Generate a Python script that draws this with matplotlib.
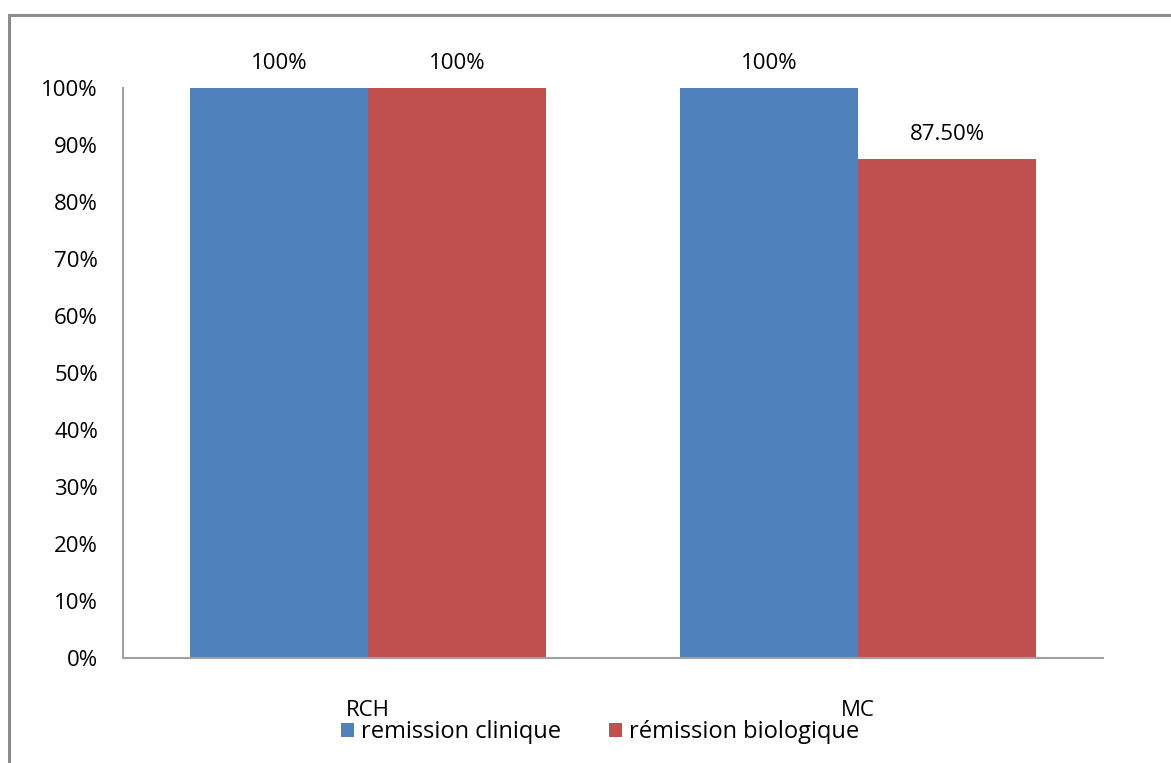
import matplotlib
matplotlib.use("Agg")
import matplotlib.pyplot as plt
from matplotlib.patches import Rectangle
from matplotlib.ticker import FuncFormatter
import numpy as np

categories = ["RCH", "MC"]
series_names = ["remission clinique", "rémission biologique"]
clinique = [100, 100]
biologique = [100, 87.5]
value_labels = [["100%", "100%"], ["100%", "87.50%"]]
yticks = [0, 10, 20, 30, 40, 50, 60, 70, 80, 90, 100]

blue = "#4F81BD"
red = "#C0504D"
axis_gray = "#A0A0A0"
fs = 16

plt.rcParams["font.family"] = ["Open Sans", "DejaVu Sans"]

fig = plt.figure(figsize=(11.71, 7.63), dpi=100)
W, H = 1171, 763

# outer chart frame
fig.add_artist(Rectangle((9 / W, -0.05), 1.2, 1 - 15 / H + 0.05, transform=fig.transFigure,
                         fill=False, edgecolor="#8C8C8C", linewidth=2.2))

ax = fig.add_axes([123 / W, (H - 658) / H, (1103 - 123) / W, (658 - 88) / H])
x = np.arange(len(categories))
bw = 178 / 490
b1 = ax.bar(x - bw / 2, clinique, bw, color=blue, label=series_names[0])
b2 = ax.bar(x + bw / 2, biologique, bw, color=red, label=series_names[1])

for bars, labels in zip((b1, b2), value_labels):
    for rect, txt in zip(bars, labels):
        ax.annotate(txt, (rect.get_x() + rect.get_width() / 2, rect.get_height()),
                    xytext=(0, 18), textcoords="offset points", ha="center", va="center",
                    fontsize=fs, color="#000000", annotation_clip=False)

ax.set_xlim(-0.5, 1.5)
ax.set_ylim(0, 100)
ax.set_yticks(yticks)
ax.yaxis.set_major_formatter(FuncFormatter(lambda v, p: f"{int(v)}%"))
ax.set_xticks(x)
ax.set_xticklabels(categories)
ax.tick_params(axis="both", length=0, labelsize=fs, colors="#000000")
ax.tick_params(axis="y", pad=18)
ax.tick_params(axis="x", pad=30)
for s in ("top", "right"):
    ax.spines[s].set_visible(False)
for s in ("left", "bottom"):
    ax.spines[s].set_color(axis_gray)
    ax.spines[s].set_linewidth(1.5)

leg = fig.legend(handles=[b1, b2], labels=series_names, loc="center",
                 bbox_to_anchor=(600 / W, 1 - 732 / H), ncol=2, frameon=False,
                 fontsize=17, handlelength=0.55, handleheight=0.55,
                 handletextpad=0.3, columnspacing=2.0, borderpad=0)

fig.savefig("out.png", dpi=100)
